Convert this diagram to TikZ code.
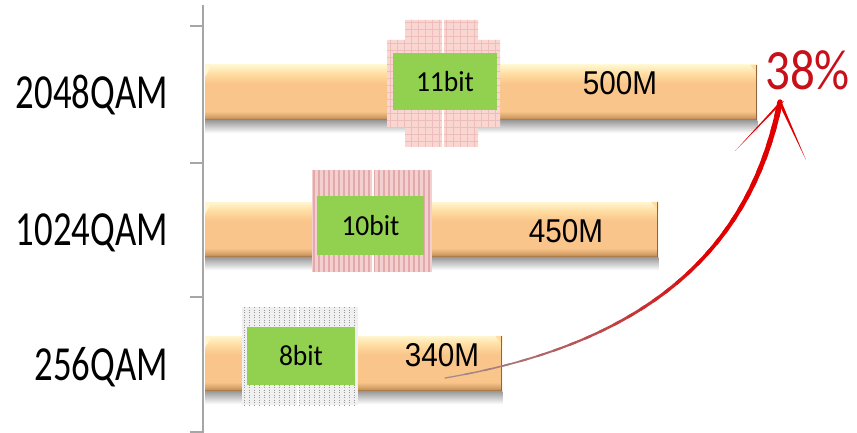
\documentclass[tikz,border=0pt]{standalone}
\usepackage{fontspec}
\usepackage{tikz}
\usetikzlibrary{positioning}
\newfontfamily\qamfont[FakeStretch=0.75]{Carlito}
\newfontfamily\pctfont[FakeStretch=0.86]{Carlito}
\newfontfamily\bitfont[FakeStretch=0.95]{Carlito}
\newfontfamily\ratefont[FakeStretch=0.9]{Liberation Sans}
\definecolor{bartop}{HTML}{FFF6CF}
\definecolor{barhi}{HTML}{FFDDA2}
\definecolor{barmid}{HTML}{FAC58A}
\definecolor{barlow}{HTML}{CF9A62}
\definecolor{barbot}{HTML}{8E653C}
\definecolor{bitgreen}{HTML}{92D050}
\definecolor{pinkbg}{HTML}{F9D6D2}
\definecolor{pinkline}{HTML}{EFBDB9}
\definecolor{rosebg}{HTML}{F3CFCF}
\definecolor{roseline}{HTML}{E2AAAA}
\definecolor{axisgray}{HTML}{A6A6A6}
\definecolor{gainred}{HTML}{E00000}
\definecolor{tailgray}{HTML}{9C9497}
\definecolor{pctred}{HTML}{C8101A}
\pgfdeclareverticalshading{barshade}{100bp}{color(0bp)=(barbot); color(25bp)=(barbot);
  color(27bp)=(barlow); color(33bp)=(barmid); color(58bp)=(barmid);
  color(67bp)=(barhi); color(75bp)=(bartop); color(100bp)=(bartop)}

\begin{document}
\begin{tikzpicture}[x=1pt,y=-1pt,
  bar/.style={shade,shading=barshade,draw=none,minimum height=55,inner sep=0pt,anchor=west},
  bitbox/.style={fill=bitgreen,inner sep=0pt,font=\bitfont\fontsize{29}{30}\selectfont},
  qam/.style={anchor=base east,inner sep=0pt,font=\qamfont\fontsize{49}{50}\selectfont},
  rate/.style={anchor=base,inner sep=0pt,font=\ratefont\fontsize{33}{34}\selectfont}]
  \useasboundingbox (0,0) rectangle (857,433);
  % axis with ticks
  \draw[axisgray,line width=1.8] (203,5) -- (203,433);
  \foreach \y in {26,163,297,432}
    \draw[axisgray,line width=1.5] (190,\y) -- (203,\y);
  % bars: name/centre/length
  \foreach \n/\y/\w in {2048/92.5/552,1024/229.5/453,256/363.5/297}{
    \node[bar,minimum width=\w] (bar\n) at (205,\y) {};
    \shade[top color=black!40,bottom color=white]
      (bar\n.south west) rectangle ([yshift=-13pt]bar\n.south east);
    \fill[bartop] (bar\n.north west) -- ++(7,0) -- ++(-7,12) -- cycle;
    \fill[barhi] (bar\n.north east) -- ++(-7,0) -- ++(7,10) -- cycle;
    \draw[barbot,line width=1.6] ([xshift=-.8pt]bar\n.north east) -- ([xshift=-.8pt]bar\n.south east);
  }
  % patterned areas behind the bit boxes
  \begin{scope}
    \clip (405,20) rectangle (478,147) (387,40) rectangle (500,127);
    \fill[pinkbg] (380,15) rectangle (505,150);
    \foreach \x in {390,397,...,500}
      \draw[pinkline,line width=.6] (\x,15) -- (\x,150);
    \foreach \y in {22,29,...,147}
      \draw[pinkline,line width=.6] (380,\y) -- (505,\y);
    \draw[white,line width=2] (443,15) -- (443,150);
  \end{scope}
  \begin{scope}
    \clip (312,170) rectangle (432,272);
    \fill[rosebg] (312,170) rectangle (432,272);
    \foreach \x in {314,319,...,432}
      \draw[roseline,line width=1.1] (\x,170) -- (\x,272);
    \draw[white,line width=2] (373,170) -- (373,272);
  \end{scope}
  \begin{scope}
    \clip (242,307) rectangle (358,405);
    \fill[black!6] (242,307) rectangle (358,405);
    \foreach \x in {244,249,...,358}
      \draw[black!40,line width=.9,dash pattern=on 1.2pt off 1.3pt] (\x,307) -- (\x,405);
    \draw[white,line width=2] (298,307) -- (298,405);
  \end{scope}
  % bit widths
  \node[bitbox,minimum width=104,minimum height=57] (bit11) at (445,81.5) {11bit};
  \node[bitbox,minimum width=107,minimum height=59] (bit10) at (370.5,225.5) {10bit};
  \node[bitbox,minimum width=108,minimum height=58] (bit8) at (301,356) {8bit};
  % rates
  \node[rate] (r500) at (620,95) {500M};
  \node[rate] (r450) at (566,242) {450M};
  \node[rate] (r340) at (442,366) {340M};
  % row labels
  \node[qam] (l2048) at (168,109) {2048QAM};
  \node[qam] (l1024) at (168,245) {1024QAM};
  \node[qam] (l256) at (168,380) {256QAM};
  \node[anchor=base west,inner sep=0pt,text=pctred,font=\pctfont\fontsize{57}{60}\selectfont]
    (pct) at (765,90) {38\%};
  % gain arrow: one curve, cut in pieces that turn from grey to red and widen
  \coordinate (g0) at (445,378);
  \coordinate (gtip) at (780,102);
  \coordinate (barbl) at (735,151);
  \coordinate (barbr) at (806,160);
  \foreach \i in {0,...,29}{
    \pgfmathsetmacro\ta{\i/30}
    \pgfmathsetmacro\tb{min(1,(\i+1.4)/30)}
    \pgfmathsetmacro\mix{min(100,5+160*\ta)}
    \pgfmathsetmacro\lw{1.3+4.2*\ta}
    \pgfsetlinewidth{\lw pt}
    \pgfsetroundcap
    \pgfsetstrokecolor{gainred!\mix!tailgray}
    \pgfpathcurvebetweentime{\ta}{\tb}{\pgfpointanchor{g0}{center}}{\pgfpointxy{645}{344}}
      {\pgfpointxy{750}{252}}{\pgfpointanchor{gtip}{center}}
    \pgfusepath{stroke}
  }
  % barbs
  \fill[gainred] ([xshift=4pt,yshift=1pt]gtip) -- (barbl) -- ([xshift=-3pt,yshift=-3pt]gtip) -- cycle;
  \fill[gainred] ([xshift=2.5pt,yshift=-2pt]gtip) -- (barbr) -- ([xshift=-2pt]gtip) -- cycle;
\end{tikzpicture}
\end{document}
